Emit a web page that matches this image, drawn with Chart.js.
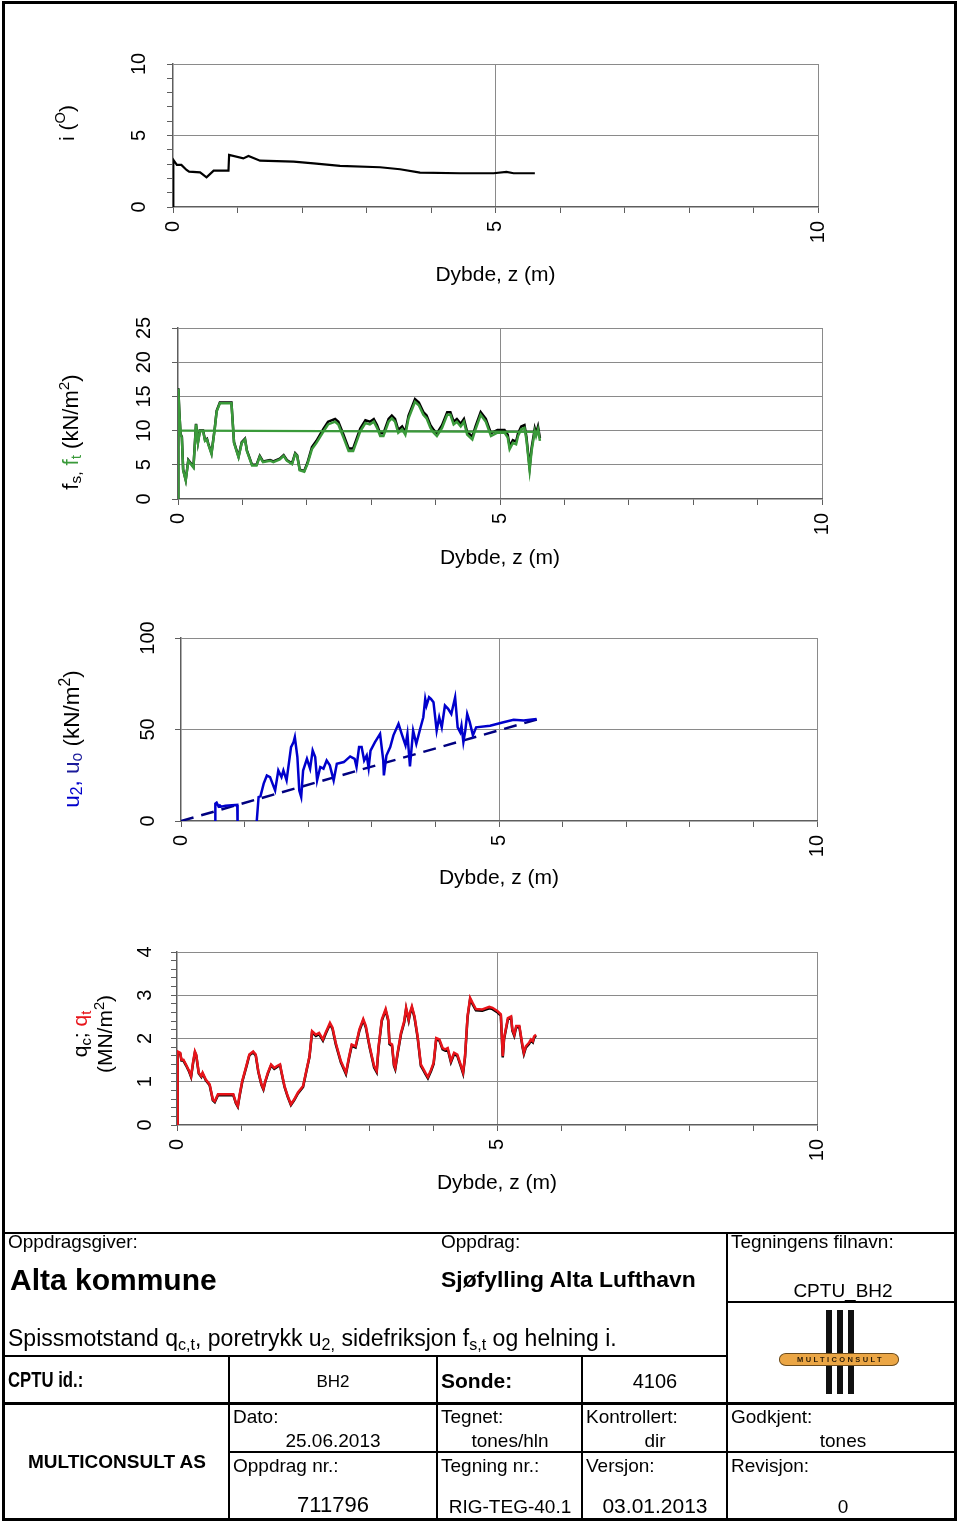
<!DOCTYPE html>
<html><head><meta charset="utf-8">
<script src="https://cdn.jsdelivr.net/npm/chart.js@4.4.1/dist/chart.umd.min.js"></script>
<style>
html,body{margin:0;padding:0;background:#fff;}
body{width:960px;height:1523px;position:relative;overflow:hidden;font-family:'Liberation Sans',Arial,Helvetica,sans-serif;color:#000;}
canvas{position:absolute;left:0;z-index:1;}
.ytitle{position:absolute;white-space:nowrap;transform:translate(-50%,-50%) rotate(-90deg);line-height:25px;text-align:center;z-index:2;}
.ln{position:absolute;background:#000;z-index:2;}
.t{position:absolute;white-space:nowrap;line-height:1;z-index:2;}
sub{font-size:0.7em;vertical-align:-0.25em;line-height:0;}
sup{font-size:0.7em;vertical-align:0.55em;line-height:0;}
#frame{position:absolute;left:2px;top:1px;width:955px;height:1520px;border:3px solid #000;box-sizing:border-box;z-index:2;}
</style></head>
<body>
<div id="frame"></div>
<script>
// ---------------- DATA ----------------
// Panel 1: inclination i (deg) vs depth z (m)
const iDepth = [0, 0.005, 0.06, 0.13, 0.21, 0.25, 0.42, 0.52, 0.63, 0.86,
                0.87, 1.09, 1.17, 1.35, 1.87, 2.18, 2.59, 3.21, 3.52, 3.83,
                4.45, 4.97, 5.17, 5.28, 5.61];
const iValue = [0, 3.30, 2.94, 2.94, 2.59, 2.47, 2.42, 2.07, 2.54, 2.54,
                3.64, 3.40, 3.57, 3.24, 3.17, 3.05, 2.87, 2.78, 2.64, 2.40,
                2.36, 2.36, 2.45, 2.36, 2.36];

// Panel 2: sleeve friction fs (black) and ft (green), kN/m2
const fDepth = [0, 0.005, 0.02, 0.04, 0.06, 0.08, 0.12, 0.16, 0.24, 0.28,
                0.31, 0.34, 0.39, 0.42, 0.45, 0.47, 0.52, 0.57, 0.60, 0.65,
                0.83, 0.87, 0.94, 0.99, 1.04, 1.07, 1.15, 1.22, 1.27, 1.32,
                1.43, 1.48, 1.58, 1.64, 1.69, 1.77, 1.82, 1.85, 1.89, 1.96,
                2.01, 2.08, 2.15, 2.26, 2.33, 2.44, 2.49, 2.57, 2.65, 2.72,
                2.83, 2.91, 2.98, 3.04, 3.09, 3.14, 3.19, 3.27, 3.32, 3.37,
                3.42, 3.48, 3.53, 3.58, 3.63, 3.68, 3.74, 3.81, 3.86, 3.92,
                3.97, 4.02, 4.10, 4.18, 4.23, 4.28, 4.33, 4.39, 4.44, 4.49,
                4.57, 4.62, 4.70, 4.78, 4.86, 4.96, 5.07, 5.12, 5.15, 5.20,
                5.25, 5.28, 5.33, 5.38, 5.41, 5.46, 5.49, 5.54, 5.56, 5.59,
                5.62];
const fsValue = [0, 16.2, 12.9, 9.5, 9.1, 4.3, 2.8, 5.7, 4.7, 11.0,
                 8.3, 10.0, 10.0, 8.6, 8.8, 8.1, 6.7, 10.3, 12.9, 14.1,
                 14.1, 8.3, 6.2, 8.3, 8.8, 7.1, 5.0, 5.0, 6.3, 5.5,
                 5.7, 5.5, 5.9, 6.4, 5.7, 5.2, 6.7, 6.4, 4.3, 4.1,
                 5.3, 7.6, 8.5, 10.3, 11.3, 11.7, 11.3, 9.4, 7.4, 7.4,
                 10.3, 11.5, 11.3, 11.7, 10.8, 9.6, 9.6, 11.7, 12.2, 11.7,
                 10.1, 10.6, 9.8, 12.2, 13.4, 14.6, 14.1, 12.7, 12.2, 10.8,
                 10.1, 9.6, 10.8, 12.7, 12.7, 11.3, 11.7, 11.0, 11.7, 9.8,
                 9.1, 10.6, 12.7, 11.7, 9.6, 10.1, 10.1, 9.4, 7.7, 8.6,
                 8.4, 9.6, 10.6, 10.8, 9.1, 4.6, 7.4, 10.3, 9.6, 10.6,
                 8.9];
const ftValue = [0, 16.1, 12.8, 9.4, 9.0, 4.2, 2.7, 5.6, 4.6, 10.9,
                 8.2, 9.9, 9.9, 8.5, 8.7, 8.0, 6.6, 10.2, 12.8, 14.0,
                 14.0, 8.2, 6.1, 8.2, 8.7, 7.0, 4.9, 4.9, 6.2, 5.4,
                 5.6, 5.4, 5.8, 6.3, 5.6, 5.1, 6.6, 6.3, 4.2, 4.0,
                 5.1, 7.3, 8.2, 9.9, 10.9, 11.3, 10.9, 9.0, 7.0, 7.0,
                 9.9, 11.1, 10.9, 11.3, 10.4, 9.2, 9.2, 11.3, 11.8, 11.3,
                 9.7, 10.2, 9.4, 11.8, 13.0, 14.2, 13.7, 12.3, 11.8, 10.4,
                 9.7, 9.2, 10.4, 12.3, 12.3, 10.9, 11.3, 10.6, 11.3, 9.4,
                 8.7, 10.2, 12.3, 11.3, 9.2, 9.7, 9.7, 9.0, 7.3, 8.2,
                 8.0, 9.2, 10.2, 10.4, 8.7, 4.2, 7.0, 9.9, 9.2, 10.2,
                 8.5];
const ftRefDepth = [0, 5.62];
const ftRefValue = [10.0, 9.8];

// Panel 3: pore pressure u2 (blue) and hydrostatic uo (dashed navy), kN/m2
const u2Depth = [0.535, 0.54, 0.56, 0.59, 0.61, 0.63, 0.70, 0.80, 0.885, 0.89,
                 1.18, 1.22, 1.25, 1.30, 1.35, 1.40, 1.48, 1.53, 1.58, 1.61,
                 1.66, 1.73, 1.77, 1.79, 1.83, 1.86, 1.89, 1.92, 1.98, 2.03,
                 2.07, 2.11, 2.14, 2.19, 2.24, 2.29, 2.34, 2.40, 2.45, 2.56,
                 2.66, 2.73, 2.76, 2.80, 2.84, 2.88, 2.92, 2.95, 2.98, 3.05,
                 3.13, 3.18, 3.19, 3.23, 3.29, 3.34, 3.42, 3.47, 3.53, 3.56,
                 3.60, 3.65, 3.70, 3.76, 3.81, 3.84, 3.86, 3.90, 3.93, 3.97,
                 4.02, 4.06, 4.10, 4.15, 4.20, 4.25, 4.31, 4.35, 4.39, 4.41,
                 4.44, 4.47, 4.50, 4.54, 4.59, 4.64, 4.86, 5.07, 5.23, 5.39,
                 5.59];
const u2Value = [-5, 9.5, 10.0, 8.0, 8.5, 7.8, 8.3, 8.6, 8.8, -5,
                 -5, 13.1, 13.6, 20.4, 24.9, 24.0, 16.7, 27.6, 24.0, 27.6,
                 22.2, 40.4, 43.1, 45.8, 34.9, 16.7, 13.1, 27.6, 34.0, 28.6,
                 38.5, 34.9, 22.2, 29.5, 28.6, 33.1, 30.4, 22.2, 31.3, 32.2,
                 35.3, 34.0, 29.5, 40.4, 40.4, 33.1, 35.8, 29.0, 38.5, 43.1,
                 47.6, 33.1, 24.9, 35.8, 40.4, 46.8, 53.1, 47.6, 41.3, 47.6,
                 29.8, 49.4, 42.2, 50.3, 56.7, 66.7, 63.1, 67.6, 66.7, 64.9,
                 49.4, 56.7, 51.2, 63.1, 61.3, 58.5, 67.6, 51.2, 48.5, 52.1,
                 43.1, 49.4, 58.5, 54.0, 46.8, 51.2, 52.1, 54.0, 55.3, 54.9,
                 55.8];
const uoDepth = [0, 5.6];
const uoValue = [0, 55.5];

// Panel 4: cone resistance qc (black) and qt (red), MN/m2
const qDepth = [0, 0.01, 0.05, 0.07, 0.10, 0.14, 0.19, 0.22, 0.25, 0.28,
                0.30, 0.34, 0.38, 0.40, 0.45, 0.51, 0.56, 0.59, 0.64, 0.77,
                0.88, 0.92, 0.95, 0.98, 1.02, 1.09, 1.13, 1.19, 1.23, 1.27,
                1.32, 1.35, 1.38, 1.42, 1.47, 1.52, 1.57, 1.61, 1.63, 1.68,
                1.73, 1.78, 1.83, 1.89, 1.97, 2.02, 2.07, 2.11, 2.17, 2.22,
                2.28, 2.32, 2.39, 2.43, 2.48, 2.56, 2.64, 2.69, 2.73, 2.79,
                2.85, 2.91, 2.95, 3.01, 3.08, 3.12, 3.15, 3.20, 3.26, 3.30,
                3.32, 3.36, 3.39, 3.41, 3.45, 3.50, 3.55, 3.58, 3.62, 3.64,
                3.67, 3.71, 3.76, 3.81, 3.84, 3.88, 3.92, 3.97, 4.01, 4.05,
                4.10, 4.15, 4.19, 4.23, 4.28, 4.33, 4.38, 4.44, 4.47, 4.50,
                4.54, 4.58, 4.62, 4.67, 4.77, 4.88, 4.93, 5.01, 5.06, 5.09,
                5.11, 5.17, 5.22, 5.24, 5.27, 5.30, 5.35, 5.40, 5.42, 5.45,
                5.50, 5.53, 5.56, 5.58, 5.61];
const qtValue = [0, 1.70, 1.67, 1.51, 1.51, 1.40, 1.25, 1.13, 1.44, 1.70,
                 1.63, 1.21, 1.13, 1.21, 1.05, 0.94, 0.59, 0.55, 0.71, 0.71,
                 0.71, 0.52, 0.44, 0.71, 1.02, 1.40, 1.63, 1.70, 1.63, 1.25,
                 0.94, 0.84, 1.02, 1.21, 1.40, 1.32, 1.37, 1.40, 1.25, 0.90,
                 0.67, 0.48, 0.59, 0.75, 0.90, 1.25, 1.59, 2.17, 2.09, 2.13,
                 1.98, 2.13, 2.36, 2.25, 1.90, 1.48, 1.21, 1.59, 1.86, 1.82,
                 2.21, 2.45, 2.29, 1.82, 1.36, 1.25, 1.82, 2.44, 2.68, 2.44,
                 1.90, 1.86, 1.40, 1.32, 1.70, 2.13, 2.40, 2.71, 2.44, 2.60,
                 2.74, 2.52, 2.05, 1.40, 1.32, 1.21, 1.11, 1.28, 1.44, 2.01,
                 1.98, 1.78, 1.75, 1.78, 1.48, 1.67, 1.63, 1.36, 1.22, 1.59,
                 2.52, 2.94, 2.82, 2.68, 2.67, 2.73, 2.71, 2.63, 2.56, 1.59,
                 2.01, 2.47, 2.51, 2.21, 2.09, 2.29, 2.29, 1.82, 1.67, 1.82,
                 1.90, 1.98, 1.94, 2.05, 2.09];
const qcValue = [0, 1.68, 1.65, 1.49, 1.49, 1.38, 1.23, 1.11, 1.42, 1.68,
                 1.61, 1.19, 1.11, 1.19, 1.03, 0.92, 0.57, 0.53, 0.69, 0.69,
                 0.69, 0.50, 0.42, 0.69, 1.00, 1.38, 1.61, 1.68, 1.61, 1.23,
                 0.92, 0.82, 1.00, 1.19, 1.38, 1.30, 1.35, 1.38, 1.23, 0.88,
                 0.65, 0.46, 0.57, 0.73, 0.88, 1.23, 1.57, 2.14, 2.06, 2.10,
                 1.95, 2.10, 2.33, 2.22, 1.87, 1.45, 1.18, 1.56, 1.83, 1.79,
                 2.18, 2.42, 2.26, 1.79, 1.33, 1.22, 1.79, 2.41, 2.65, 2.41,
                 1.87, 1.83, 1.37, 1.29, 1.67, 2.10, 2.37, 2.68, 2.41, 2.57,
                 2.71, 2.49, 2.02, 1.37, 1.29, 1.18, 1.08, 1.25, 1.41, 1.98,
                 1.95, 1.75, 1.72, 1.75, 1.45, 1.64, 1.60, 1.33, 1.19, 1.56,
                 2.49, 2.91, 2.79, 2.65, 2.64, 2.70, 2.68, 2.60, 2.53, 1.56,
                 1.98, 2.44, 2.48, 2.18, 2.06, 2.26, 2.26, 1.79, 1.64, 1.79,
                 1.87, 1.95, 1.91, 2.02, 2.06];

// Axis tick values
const depthTicks = [0, 5, 10];
const iTicks = [0, 5, 10];
const fTicks = [0, 5, 10, 15, 20, 25];
const uTicks = [0, 50, 100];
const qTicks = [0, 1, 2, 3, 4];
const depthTitle = 'Dybde, z (m)';

// ---------------- CHARTS ----------------
const FONT = "'Liberation Sans', Arial, Helvetica, sans-serif";
Chart.defaults.font.family = FONT;
Chart.defaults.color = '#000';
const GRID = '#8a8a8a', AXIS = '#5e5e5e';
function isMult(v, m) { const r = v / m; return Math.abs(r - Math.round(r)) < 1e-6; }
function pts(xs, ys) { return xs.map((x, i) => ({ x: x, y: ys[i] })); }
function inList(v, list) { return list.some(t => Math.abs(t - v) < 1e-6); }

function makePanel(p) {
  const c = document.createElement('canvas');
  c.width = 960; c.height = p.h;
  c.style.width = '960px'; c.style.height = p.h + 'px';
  c.style.top = p.top + 'px';
  document.body.appendChild(c);
  const xAxisH = p.top + p.h - p.area.bottom;
  new Chart(c, {
    type: 'line',
    data: { datasets: p.datasets },
    options: {
      responsive: false, animation: false, devicePixelRatio: 1,
      layout: { padding: { left: 0, right: 960 - p.area.right, top: p.area.top - p.top, bottom: 0 } },
      plugins: { legend: { display: false }, tooltip: { enabled: false } },
      elements: { point: { radius: 0 }, line: { tension: 0 } },
      scales: {
        x: {
          type: 'linear', min: 0, max: 10,
          ticks: { stepSize: 1, autoSkip: false, minRotation: 90, maxRotation: 90, padding: 8,
                   font: { size: 20 }, color: '#000',
                   callback: v => inList(v, depthTicks) ? String(v) : '' },
          grid: { color: ctx => (ctx.tick && isMult(ctx.tick.value, 5) && ctx.tick.value > 0) ? GRID : 'rgba(0,0,0,0)',
                  tickColor: AXIS, tickLength: 6, lineWidth: 1, tickWidth: 1 },
          border: { color: AXIS, width: 1.5 },
          title: { display: true, text: depthTitle, font: { size: 21 }, color: '#000',
                   padding: { top: 0, bottom: p.titlePad } },
          afterFit: s => { s.height = xAxisH; }
        },
        y: {
          type: 'linear', min: p.yMin, max: p.yMax,
          ticks: { stepSize: p.yStep, autoSkip: false, minRotation: 90, maxRotation: 90,
                   crossAlign: 'center', padding: p.yPad, font: { size: 20 }, color: '#000',
                   callback: v => inList(v, p.yTicks) ? String(Math.round(v)) : '' },
          grid: { color: ctx => (ctx.tick && inList(ctx.tick.value, p.yTicks) && ctx.tick.value > 0) ? GRID : 'rgba(0,0,0,0)',
                  tickColor: AXIS, tickLength: 6, lineWidth: 1, tickWidth: 1 },
          border: { color: AXIS, width: 1.5 },
          afterFit: s => { s.width = p.area.left; }
        }
      }
    }
  });
}

function line(data, color, width, extra) {
  return Object.assign({ data: data, borderColor: color, backgroundColor: color, borderWidth: width,
                         pointRadius: 0, fill: false, tension: 0 }, extra || {});
}

makePanel({ top: 30, h: 270, area: { left: 173, right: 818, top: 64, bottom: 207 },
  yMin: 0, yMax: 10, yStep: 1, yTicks: iTicks, yPad: 16, titlePad: 12,
  datasets: [ line(pts(iDepth, iValue), '#000000', 2.2) ] });

makePanel({ top: 300, h: 290, area: { left: 178, right: 822, top: 325, bottom: 499 },
  yMin: 0, yMax: 25, yStep: 5, yTicks: fTicks, yPad: 16, titlePad: 19,
  datasets: [
    line(pts(ftRefDepth, ftRefValue), '#3a9a3a', 2.2, { order: 0 }),
    line(pts(fDepth, ftValue), '#3a9a3a', 2.5, { order: 1 }),
    line(pts(fDepth, fsValue), '#000000', 2.5, { order: 2 })
  ] });

makePanel({ top: 590, h: 320, area: { left: 181, right: 817, top: 638, bottom: 821 },
  yMin: 0, yMax: 100, yStep: 50, yTicks: uTicks, yPad: 10, titlePad: 19,
  datasets: [
    line(pts(u2Depth, u2Value), '#0000cc', 2.5, { order: 1 }),
    line(pts(uoDepth, uoValue), '#000080', 2.5, { order: 2, borderDash: [13, 8] })
  ] });

makePanel({ top: 910, h: 310, area: { left: 177, right: 817, top: 952, bottom: 1125 },
  yMin: 0, yMax: 4, yStep: 0.2, yTicks: qTicks, yPad: 20, titlePad: 24,
  datasets: [
    line(pts(qDepth, qtValue), '#e8141a', 2.5, { order: 1 }),
    line(pts(qDepth, qcValue), '#000000', 2.5, { order: 2 })
  ] });

// ---------------- Y-AXIS TITLES (rich text) ----------------
function ytitle(html, cx, cy, size) {
  const d = document.createElement('div');
  d.className = 'ytitle';
  d.style.left = cx + 'px'; d.style.top = cy + 'px'; d.style.fontSize = size + 'px';
  d.innerHTML = html;
  document.body.appendChild(d);
}
ytitle('i (<sup>O</sup>)', 66, 123, 21);
ytitle('f<sub>s,</sub> <span style="color:#3a9a3a">f<sub>t</sub></span> (kN/m<sup>2</sup>)', 70, 432, 22);
ytitle('<span style="color:#0000cc">u<sub>2</sub>,</span> <span style="color:#1a1a9a">u<sub>o</sub></span> (kN/m<sup>2</sup>)', 71, 739, 22.5);
ytitle('q<sub>c</sub>; <span style="color:#e8141a">q<sub>t</sub></span><br>(MN/m<sup>2</sup>)', 92, 1034, 21);

// ---------------- TITLE BLOCK ----------------
function ln(x, y, w, h) {
  const d = document.createElement('div'); d.className = 'ln';
  d.style.left = x + 'px'; d.style.top = y + 'px'; d.style.width = w + 'px'; d.style.height = h + 'px';
  document.body.appendChild(d);
}
ln(2, 1232, 955, 2);
ln(726, 1232, 2, 289);
ln(726, 1301, 231, 2);
ln(2, 1355, 725, 2);
ln(228, 1355, 2, 166);
ln(436, 1355, 2, 166);
ln(581, 1355, 2, 166);
ln(2, 1402, 955, 3);
ln(228, 1451, 729, 2);

function txt(html, x, base, size, opts) {
  opts = opts || {};
  const d = document.createElement('div'); d.className = 't';
  d.innerHTML = html;
  d.style.fontSize = size + 'px';
  d.style.top = (base - 0.846 * size) + 'px';
  d.style.left = x + 'px';
  if (opts.bold) d.style.fontWeight = 'bold';
  let tf = '';
  if (opts.align === 'center') tf += 'translateX(-50%) ';
  if (opts.sx) { tf += 'scaleX(' + opts.sx + ')'; d.style.transformOrigin = opts.align === 'center' ? '50% 0' : '0 0'; }
  if (tf) d.style.transform = tf;
  document.body.appendChild(d);
}
txt('Oppdragsgiver:', 8, 1248, 19);
txt('Alta kommune', 10, 1290, 30, { bold: true });
txt('Oppdrag:', 441, 1248, 19);
txt('Sjøfylling Alta Lufthavn', 441, 1287, 22.9, { bold: true });
txt('Tegningens filnavn:', 731, 1248, 19);
txt('CPTU_BH2', 843, 1297, 19, { align: 'center' });
txt('Spissmotstand q<sub>c,t</sub>, poretrykk u<sub>2,</sub> sidefriksjon f<sub>s,t</sub> og helning i.', 8, 1346, 23);
txt('CPTU id.:', 8, 1388, 22, { bold: true, sx: 0.76 });
txt('BH2', 333, 1387, 17, { align: 'center' });
txt('Sonde:', 441, 1388, 21, { bold: true });
txt('4106', 655, 1388, 20, { align: 'center' });
txt('MULTICONSULT AS', 117, 1468, 19, { bold: true, align: 'center' });
txt('Dato:', 233, 1423, 19);
txt('25.06.2013', 333, 1447, 19, { align: 'center' });
txt('Oppdrag nr.:', 233, 1472, 19);
txt('711796', 333, 1513, 22, { align: 'center' });
txt('Tegnet:', 441, 1423, 19);
txt('tones/hln', 510, 1447, 19, { align: 'center' });
txt('Tegning nr.:', 441, 1472, 19);
txt('RIG-TEG-40.1', 510, 1513, 19, { align: 'center' });
txt('Kontrollert:', 586, 1423, 19);
txt('dir', 655, 1447, 19, { align: 'center' });
txt('Versjon:', 586, 1472, 19);
txt('03.01.2013', 655, 1513, 21, { align: 'center' });
txt('Godkjent:', 731, 1423, 19);
txt('tones', 843, 1447, 19, { align: 'center' });
txt('Revisjon:', 731, 1472, 19);
txt('0', 843, 1513, 19, { align: 'center' });

// Logo
[826, 837, 848].forEach(x => {
  const b = document.createElement('div');
  b.style.cssText = 'position:absolute;left:' + x + 'px;top:1310px;width:6px;height:84px;background:#111;z-index:2;';
  document.body.appendChild(b);
});
const pill = document.createElement('div');
pill.style.cssText = 'position:absolute;left:779px;top:1353px;width:120px;height:13px;box-sizing:border-box;' +
  'background:#eba645;border:1px solid #6b4a1a;border-radius:7px/6px;z-index:3;' +
  'font:bold 7.5px ' + FONT + ';letter-spacing:2.4px;color:#2a1a05;text-align:center;line-height:11px;padding-left:3px;';
pill.textContent = 'MULTICONSULT';
document.body.appendChild(pill);
</script>
</body></html>
